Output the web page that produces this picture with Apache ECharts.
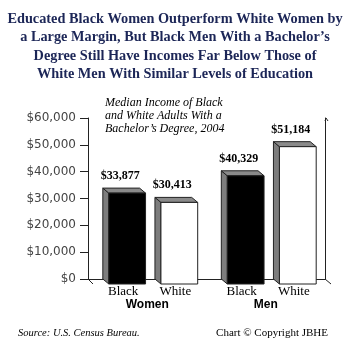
<!DOCTYPE html>
<html>
<head>
<meta charset="utf-8">
<script src="https://cdn.jsdelivr.net/npm/echarts@6/dist/echarts.min.js"></script>
<style>
  html, body { margin: 0; padding: 0; background: #fff; }
  #chart { width: 350px; height: 341px; }
</style>
</head>
<body>
<div id="chart"></div>
<script>
// Median income of adults with a bachelor's degree, 2004
const groups = ['Women', 'Men'];
const races = ['Black', 'White'];
const blackIncome = [33877, 40329];
const whiteIncome = [30413, 51184];
const yTicks = { min: 0, max: 60000, interval: 10000 };

const titleText = 'Educated Black Women Outperform White Women by\n' +
  'a Large Margin, But Black Men With a Bachelor\u2019s\n' +
  'Degree Still Have Incomes Far Below Those of\n' +
  'White Men With Similar Levels of Education';
const subtitleText = 'Median Income of Black\nand White Adults With a\nBachelor\u2019s Degree, 2004';

const grid = { left: 88, right: 25, top: 118, bottom: 62 };
const depth = { dx: 6, dy: 5 };

function money(v) {
  return '$' + v.toLocaleString('en-US');
}

// 3D box: back face sits on the value scale, front face pushed down-right
function makeRenderer(side, fillFront) {
  return function (params, api) {
    const cat = api.value(0);
    const val = api.value(1);
    const base = api.coord([cat, 0]);
    const top = api.coord([cat, val]);
    const band = api.size([1, 0])[0];
    const cx = base[0] + side * band * 0.22;
    const w = band * 0.31;
    const x0 = cx - w / 2, x1 = cx + w / 2;
    const yT = top[1], yB = base[1];
    const dx = depth.dx, dy = depth.dy;
    const edge = { stroke: '#222', lineWidth: 1 };
    return {
      type: 'group',
      children: [
        {
          type: 'polygon',
          shape: { points: [[x0, yT], [x0 + dx, yT + dy], [x0 + dx, yB + dy], [x0, yB]] },
          style: Object.assign({ fill: '#7d7d7d' }, edge)
        },
        {
          type: 'polygon',
          shape: { points: [[x0, yT], [x1, yT], [x1 + dx, yT + dy], [x0 + dx, yT + dy]] },
          style: Object.assign({ fill: '#8a8a8a' }, edge)
        },
        {
          type: 'rect',
          shape: { x: x0 + dx, y: yT + dy, width: w, height: yB - yT },
          style: Object.assign({ fill: fillFront }, edge)
        },
        {
          type: 'text',
          x: cx - 1, y: yT - 6,
          style: {
            text: money(val), align: 'center', verticalAlign: 'bottom',
            font: 'bold 12px "Liberation Serif", serif', fill: '#000'
          }
        },
        {
          type: 'text',
          x: cx + dx / 2 - 1, y: yB + 13,
          style: {
            text: params.seriesName, align: 'center', verticalAlign: 'middle',
            font: '13px "Liberation Serif", serif', fill: '#000'
          }
        }
      ]
    };
  };
}

const chart = echarts.init(document.getElementById('chart'), null, { renderer: 'canvas' });

const gLeft = grid.left, gRight = 350 - grid.right, gBottom = 341 - grid.bottom;

chart.setOption({
  animation: false,
  backgroundColor: '#fff',
  title: [
    {
      text: titleText, left: 'center', top: 5,
      textStyle: {
        fontFamily: '"Liberation Serif", serif', fontWeight: 'bold',
        fontSize: 14.3, lineHeight: 18.5, color: '#1c2657', align: 'center'
      }
    },
    {
      text: subtitleText, left: 100, top: 91,
      textStyle: {
        fontFamily: '"Liberation Serif", serif', fontStyle: 'italic',
        fontWeight: 'normal', fontSize: 12, lineHeight: 13, color: '#000'
      }
    },
    {
      text: 'Source: U.S. Census Bureau.', left: 13, top: 323,
      textStyle: {
        fontFamily: '"Liberation Serif", serif', fontStyle: 'italic',
        fontWeight: 'normal', fontSize: 10.5, color: '#000'
      }
    },
    {
      text: 'Chart \u00a9 Copyright JBHE', right: 17, top: 323,
      textStyle: {
        fontFamily: '"Liberation Serif", serif',
        fontWeight: 'normal', fontSize: 11, color: '#000'
      }
    }
  ],
  grid: { left: grid.left, right: grid.right, top: grid.top, bottom: grid.bottom },
  xAxis: {
    type: 'category',
    data: groups,
    axisLine: { show: true, lineStyle: { color: '#222', width: 1 } },
    axisTick: { show: false },
    axisLabel: {
      margin: 20,
      fontFamily: '"Liberation Sans", Arial, sans-serif',
      fontWeight: 'bold', fontSize: 12, color: '#000'
    }
  },
  yAxis: [
    {
      type: 'value',
      min: yTicks.min, max: yTicks.max, interval: yTicks.interval,
      axisLine: { show: true, lineStyle: { color: '#222', width: 1 } },
      axisTick: { show: true, length: 8, lineStyle: { color: '#222' } },
      splitLine: { show: false },
      axisLabel: {
        margin: 12,
        formatter: money,
        fontFamily: '"DejaVu Sans", sans-serif', fontSize: 12, color: '#444'
      }
    },
    {
      type: 'value', position: 'right',
      min: yTicks.min, max: yTicks.max, interval: yTicks.interval,
      axisLine: { show: true, lineStyle: { color: '#222', width: 1 } },
      axisTick: { show: false }, axisLabel: { show: false }, splitLine: { show: false }
    }
  ],
  graphic: [
    // floor depth edges at both ends
    { type: 'line', shape: { x1: gLeft, y1: gBottom, x2: gLeft + depth.dx - 1, y2: gBottom + depth.dy }, style: { stroke: '#222', lineWidth: 1 } },
    { type: 'line', shape: { x1: gRight, y1: gBottom, x2: gRight + depth.dx, y2: gBottom + depth.dy }, style: { stroke: '#222', lineWidth: 1 } },
    // small curl at the top of the back wall edge
    { type: 'polyline', shape: { points: [[gRight, grid.top + 3], [gRight + 1, grid.top], [gRight + 3, grid.top + 3]] }, style: { stroke: '#222', lineWidth: 1, fill: null } }
  ],
  series: [
    {
      name: races[0], type: 'custom', renderItem: makeRenderer(-1, '#000'),
      encode: { x: 0, y: 1 },
      data: blackIncome.map((v, i) => [i, v]), z: 5
    },
    {
      name: races[1], type: 'custom', renderItem: makeRenderer(1, '#fff'),
      encode: { x: 0, y: 1 },
      data: whiteIncome.map((v, i) => [i, v]), z: 5
    }
  ]
});
</script>
</body>
</html>
